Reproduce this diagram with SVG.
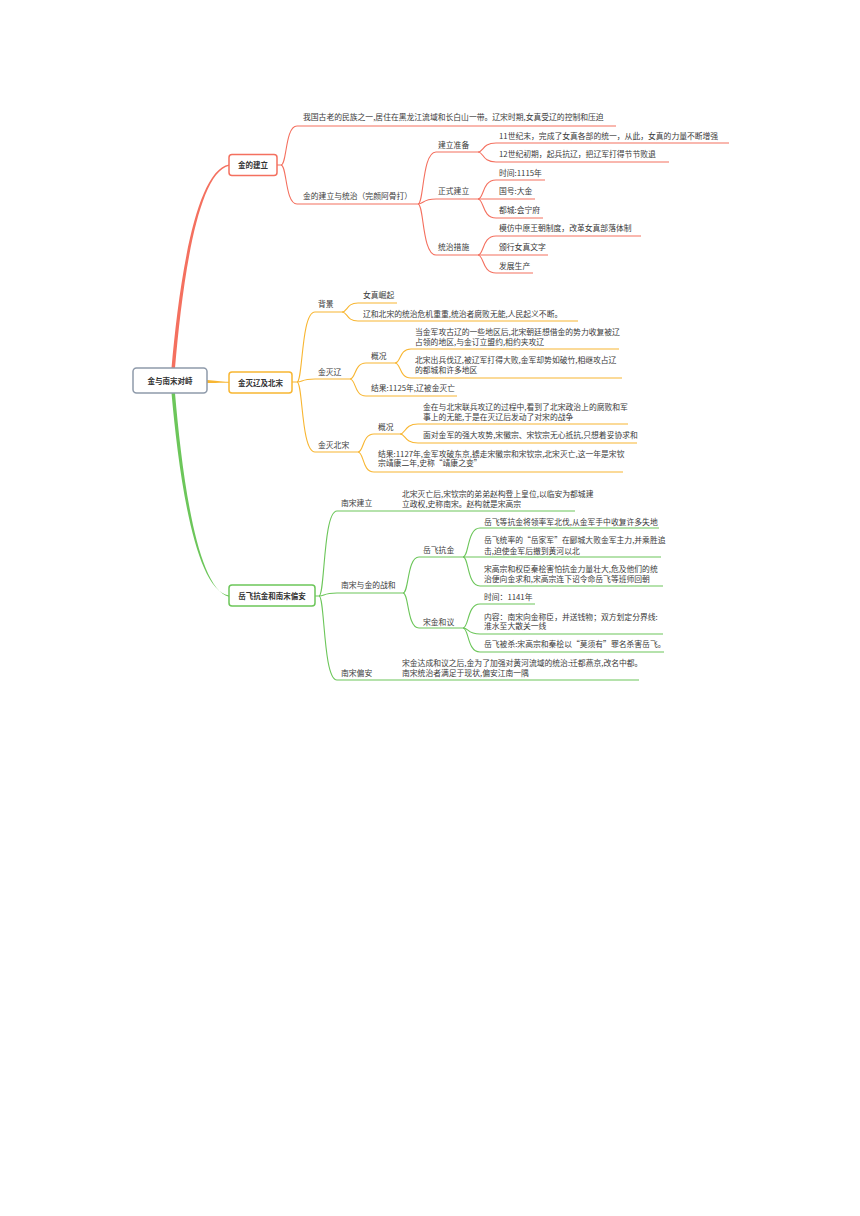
<svg xmlns="http://www.w3.org/2000/svg" width="860" height="1216" viewBox="0 0 860 1216">
<style>
.t{font-family:"Noto Sans CJK SC","Noto Sans",sans-serif;font-size:7.8px;fill:#3a3a3a}
.b{font-family:"Noto Sans CJK SC","Noto Sans",sans-serif;font-size:7.5px;font-weight:bold;fill:#333;text-anchor:middle}
.r{fill:none;stroke:#F4705F;stroke-width:1.1}
.o{fill:none;stroke:#F8B632;stroke-width:1.1}
.g{fill:none;stroke:#6CC65A;stroke-width:1.1}
</style>
<rect width="860" height="1216" fill="#fff"/>
<g id="connectors">
  <path d="M171.5,368 C178.5,290 194,171 229,164.5 L229,165.8 C196,173.5 181.8,290 175,368 Z" fill="#F4705F"/>
  <path d="M207,380 C215,380.5 220,381.5 229,381.8 L229,382.8 C220,382.5 215,383 207,383 Z" fill="#F8B632"/>
  <path d="M171.5,393 C178.5,471 194,590 229,595.5 L229,596.8 C196,588.5 181.8,471 175,393 Z" fill="#6CC65A"/>
  <path class="r" d="M277,165 H281 C287,165 285,126 297,126 H616"/>
  <path class="r" d="M281,165 C287,165 285,204 297,204 H418"/>
  <path class="r" d="M418,204 C424,204 422,152 436,152 H478"/>
  <path class="r" d="M418,204 C424,204 422,199 436,199 H478"/>
  <path class="r" d="M418,204 C424,204 422,255 436,255 H478"/>
  <path class="r" d="M478,152 C484,152 482,143 496,143 H729"/>
  <path class="r" d="M478,152 C484,152 482,162 496,162 H669"/>
  <path class="r" d="M478,199 C484,199 482,180 496,180 H545"/>
  <path class="r" d="M478,199 H535"/>
  <path class="r" d="M478,199 C484,199 482,218 496,218 H543"/>
  <path class="r" d="M478,255 C484,255 482,236 496,236 H641"/>
  <path class="r" d="M478,255 H548"/>
  <path class="r" d="M478,255 C484,255 482,273 496,273 H533"/>
  <path class="o" d="M292,382 H297 C303,382 301,312 315,312 H342"/>
  <path class="o" d="M297,382 C303,382 301,379 315,379 H350"/>
  <path class="o" d="M297,382 C303,382 301,452 315,452 H358"/>
  <path class="o" d="M342,312 C348,312 346,303 358,303 H397"/>
  <path class="o" d="M342,312 C348,312 346,321 358,321 H578"/>
  <path class="o" d="M350,379 C356,379 354,363 366,363 H395"/>
  <path class="o" d="M350,379 C356,379 354,396 366,396 H457"/>
  <path class="o" d="M395,363 C401,363 399,349 411,349 H619"/>
  <path class="o" d="M395,363 C401,363 399,378 411,378 H622"/>
  <path class="o" d="M358,452 C364,452 362,434 374,434 H400"/>
  <path class="o" d="M358,452 C364,452 362,472 374,472 H623"/>
  <path class="o" d="M400,434 C406,434 404,424 418,424 H628"/>
  <path class="o" d="M400,434 C406,434 404,443 418,443 H637"/>
  <path class="g" d="M315,596 H319 C325,596 323,511 337,511 H575"/>
  <path class="g" d="M319,596 C325,596 323,593 337,593 H403"/>
  <path class="g" d="M319,596 C325,596 323,680 337,680 H639"/>
  <path class="g" d="M403,593 C409,593 407,557 419,557 H463"/>
  <path class="g" d="M403,593 C409,593 407,628 419,628 H463"/>
  <path class="g" d="M463,557 C469,557 467,528 480,528 H659"/>
  <path class="g" d="M463,557 H661"/>
  <path class="g" d="M463,557 C469,557 467,586 480,586 H663"/>
  <path class="g" d="M463,628 C469,628 467,604 480,604 H535"/>
  <path class="g" d="M463,628 C469,628 467,634 480,634 H663"/>
  <path class="g" d="M463,628 C469,628 467,652 480,652 H664"/>
</g>
<g id="root">
  <rect x="133" y="368" width="74" height="25" rx="3.5" fill="#fff" stroke="#8E9AAA" stroke-width="1.5"/>
  <text class="b" x="170" y="383.5">金与南宋对峙</text>
</g>
<g id="b1">
  <rect x="229" y="154.5" width="48" height="21" rx="3" fill="#fff" stroke="#F4705F" stroke-width="1.5"/>
  <text class="b" x="253" y="168">金的建立</text>
</g>
<g id="b1-1"><text class="t" x="303" y="120">我国古老的民族之一,居住在黑龙江流域和长白山一带。辽宋时期,女真受辽的控制和压迫</text></g>
<g id="b1-2"><text class="t" x="303" y="199">金的建立与统治（完颜阿骨打）</text></g>
<g id="b1-2-1"><text class="t" x="438" y="148">建立准备</text></g>
<g id="b1-2-1-1"><text class="t" x="499" y="139">11世纪末，完成了女真各部的统一，从此，女真的力量不断增强</text></g>
<g id="b1-2-1-2"><text class="t" x="499" y="157">12世纪初期，起兵抗辽，把辽军打得节节败退</text></g>
<g id="b1-2-2"><text class="t" x="438" y="194">正式建立</text></g>
<g id="b1-2-2-1"><text class="t" x="499" y="176">时间:1115年</text></g>
<g id="b1-2-2-2"><text class="t" x="499" y="194">国号:大金</text></g>
<g id="b1-2-2-3"><text class="t" x="499" y="213">都城:会宁府</text></g>
<g id="b1-2-3"><text class="t" x="438" y="250">统治措施</text></g>
<g id="b1-2-3-1"><text class="t" x="499" y="231">模仿中原王朝制度，改革女真部落体制</text></g>
<g id="b1-2-3-2"><text class="t" x="499" y="250">颁行女真文字</text></g>
<g id="b1-2-3-3"><text class="t" x="499" y="269">发展生产</text></g>
<g id="b2">
  <rect x="229" y="372" width="63" height="21" rx="3" fill="#fff" stroke="#F8B632" stroke-width="1.5"/>
  <text class="b" x="260.5" y="385.5">金灭辽及北宋</text>
</g>
<g id="b2-1"><text class="t" x="318" y="307">背景</text></g>
<g id="b2-1-1"><text class="t" x="363" y="298">女真崛起</text></g>
<g id="b2-1-2"><text class="t" x="363" y="317">辽和北宋的统治危机重重,统治者腐败无能,人民起义不断。</text></g>
<g id="b2-2"><text class="t" x="318" y="375">金灭辽</text></g>
<g id="b2-2-1"><text class="t" x="371" y="359">概况</text></g>
<g id="b2-2-1-1"><text class="t" x="415" y="335">当金军攻古辽的一些地区后,北宋朝廷想借金的势力收复被辽</text><text class="t" x="415" y="345">占领的地区,与金订立盟约,相约夹攻辽</text></g>
<g id="b2-2-1-2"><text class="t" x="415" y="363">北宋出兵伐辽,被辽军打得大败,金军却势如破竹,相继攻占辽</text><text class="t" x="415" y="373">的都城和许多地区</text></g>
<g id="b2-2-2"><text class="t" x="371" y="391">结果:1125年,辽被金灭亡</text></g>
<g id="b2-3"><text class="t" x="318" y="448">金灭北宋</text></g>
<g id="b2-3-1"><text class="t" x="378" y="430">概况</text></g>
<g id="b2-3-1-1"><text class="t" x="423" y="410">金在与北宋联兵攻辽的过程中,看到了北宋政治上的腐败和军</text><text class="t" x="423" y="420">事上的无能,于是在灭辽后发动了对宋的战争</text></g>
<g id="b2-3-1-2"><text class="t" x="423" y="438">面对金军的强大攻势,宋徽宗、宋钦宗无心抵抗,只想着妥协求和</text></g>
<g id="b2-3-2"><text class="t" x="378" y="457">结果:1127年,金军攻破东京,掳走宋徽宗和宋钦宗,北宋灭亡,这一年是宋钦</text><text class="t" x="378" y="466">宗靖康二年,史称“靖康之变”</text></g>
<g id="b3">
  <rect x="229" y="585" width="86" height="21" rx="3" fill="#fff" stroke="#6CC65A" stroke-width="1.5"/>
  <text class="b" x="272" y="598.5">岳飞抗金和南宋偏安</text>
</g>
<g id="b3-1"><text class="t" x="341" y="506">南宋建立</text></g>
<g id="b3-1-1"><text class="t" x="402" y="497">北宋灭亡后,宋钦宗的弟弟赵构登上皇位,以临安为都城建</text><text class="t" x="402" y="507">立政权,史称南宋。赵构就是宋高宗</text></g>
<g id="b3-2"><text class="t" x="341" y="588">南宋与金的战和</text></g>
<g id="b3-2-1"><text class="t" x="423" y="553">岳飞抗金</text></g>
<g id="b3-2-1-1"><text class="t" x="484" y="525">岳飞等抗金将领率军北伐,从金军手中收复许多失地</text></g>
<g id="b3-2-1-2"><text class="t" x="484" y="543">岳飞统率的“岳家军”在郾城大败金军主力,并乘胜追</text><text class="t" x="484" y="554">击,迫使金军后撤到黄河以北</text></g>
<g id="b3-2-1-3"><text class="t" x="484" y="572">宋高宗和权臣秦桧害怕抗金力量壮大,危及他们的统</text><text class="t" x="484" y="582">治便向金求和,宋高宗连下诏令命岳飞等班师回朝</text></g>
<g id="b3-2-2"><text class="t" x="423" y="625">宋金和议</text></g>
<g id="b3-2-2-1"><text class="t" x="484" y="600">时间：1141年</text></g>
<g id="b3-2-2-2"><text class="t" x="484" y="620">内容：南宋向金称臣，并送钱物；双方划定分界线:</text><text class="t" x="484" y="629">淮水至大散关一线</text></g>
<g id="b3-2-2-3"><text class="t" x="484" y="647">岳飞被杀:宋高宗和秦桧以“莫须有”罪名杀害岳飞。</text></g>
<g id="b3-3"><text class="t" x="341" y="676">南宋偏安</text></g>
<g id="b3-3-1"><text class="t" x="402" y="666">宋金达成和议之后,金为了加强对黄河流域的统治:迁都燕京,改名中都。</text><text class="t" x="402" y="676">南宋统治者满足于现状,偏安江南一隅</text></g>
</svg>
